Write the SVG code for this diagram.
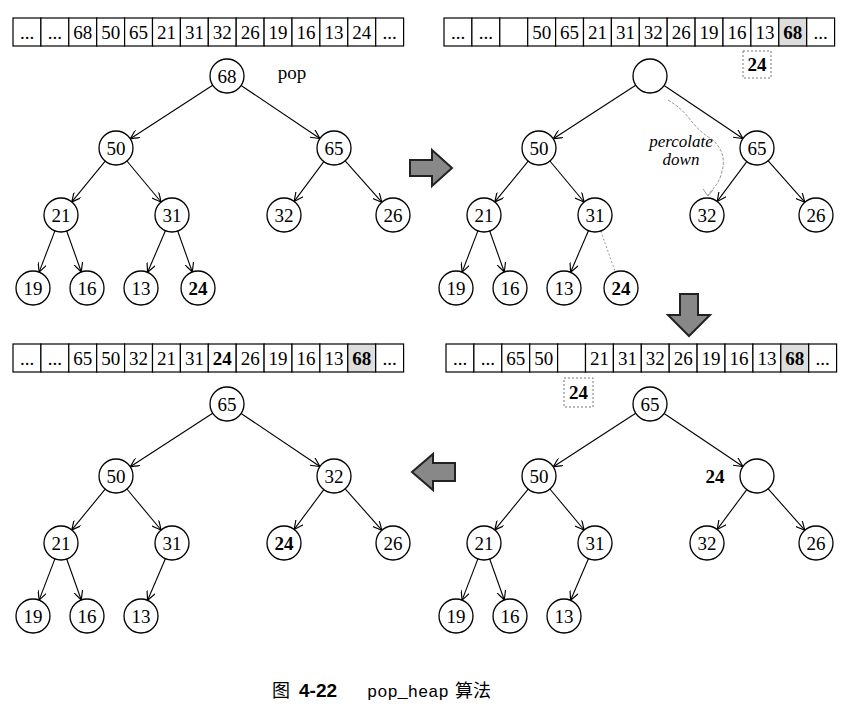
<svg xmlns="http://www.w3.org/2000/svg" width="862" height="711" viewBox="0 0 862 711">
<defs>
<style>
.n{fill:#fff;stroke:#000;stroke-width:1.3}
.t{font-family:"Liberation Serif",serif;font-size:19px;text-anchor:middle;fill:#000}
.b{font-weight:bold}
.e{stroke:#000;stroke-width:1.1;fill:none;marker-end:url(#ah)}
.c{fill:#fff;stroke:#000;stroke-width:1.2}
.g{fill:#ddd;stroke:#000;stroke-width:1.2}
.d{fill:#fff;stroke:#777;stroke-width:1;stroke-dasharray:2 2}
.big{fill:#888;stroke:#222;stroke-width:2}
</style>
<marker id="ah" viewBox="0 0 10 10" refX="10" refY="5" markerWidth="9" markerHeight="9" orient="auto" markerUnits="userSpaceOnUse"><path d="M0,0 L10,5 L0,10" fill="none" stroke="#000" stroke-width="1.3"/></marker>
<g id="arr"><rect class="c" x="0" y="0" width="27.9" height="28"/></g>
</defs>
<rect width="862" height="711" fill="#fff"/>

<g id="connectors">
 <g id="e-tl">
  <line class="e" x1="212.7" y1="85.3" x2="130.3" y2="138.7"/>
  <line class="e" x1="241.1" y1="85.5" x2="319.9" y2="138.5"/>
  <line class="e" x1="105.2" y1="161.1" x2="71.8" y2="201.9"/>
  <line class="e" x1="126.9" y1="161" x2="161.1" y2="202"/>
  <line class="e" x1="323.8" y1="161.6" x2="294.2" y2="201.4"/>
  <line class="e" x1="345.2" y1="160.8" x2="381.8" y2="202.2"/>
  <line class="e" x1="54.9" y1="230.9" x2="39.1" y2="272.1"/>
  <line class="e" x1="66.7" y1="231" x2="81.3" y2="272"/>
  <line class="e" x1="165.4" y1="230.7" x2="147.6" y2="272.3"/>
  <line class="e" x1="177.7" y1="231" x2="192.3" y2="272"/>
 </g>
 <g id="e-tr" transform="translate(423,0)">
  <line class="e" x1="212.7" y1="85.3" x2="130.3" y2="138.7"/>
  <line class="e" x1="241.1" y1="85.5" x2="319.9" y2="138.5"/>
  <line class="e" x1="105.2" y1="161.1" x2="71.8" y2="201.9"/>
  <line class="e" x1="126.9" y1="161" x2="161.1" y2="202"/>
  <line class="e" x1="323.8" y1="161.6" x2="294.2" y2="201.4"/>
  <line class="e" x1="345.2" y1="160.8" x2="381.8" y2="202.2"/>
  <line class="e" x1="54.9" y1="230.9" x2="39.1" y2="272.1"/>
  <line class="e" x1="66.7" y1="231" x2="81.3" y2="272"/>
  <line class="e" x1="165.4" y1="230.7" x2="147.6" y2="272.3"/>
  <line x1="177.7" y1="231" x2="192.3" y2="272" stroke="#999" stroke-width="1" stroke-dasharray="2 2"/>
  <path d="M245,100 C270,115 265,125 290,140 C300,150 303,160 298,175 C295,185 290,188 285,195" fill="none" stroke="#999" stroke-width="1" stroke-dasharray="3 1.5"/>
  <path d="M280,189 L285,196 L290,190" fill="none" stroke="#999" stroke-width="1"/>
 </g>
 <g id="e-bl" transform="translate(0,328)">
  <line class="e" x1="212.7" y1="85.3" x2="130.3" y2="138.7"/>
  <line class="e" x1="241.1" y1="85.5" x2="319.9" y2="138.5"/>
  <line class="e" x1="105.2" y1="161.1" x2="71.8" y2="201.9"/>
  <line class="e" x1="126.9" y1="161" x2="161.1" y2="202"/>
  <line class="e" x1="323.8" y1="161.6" x2="294.2" y2="201.4"/>
  <line class="e" x1="345.2" y1="160.8" x2="381.8" y2="202.2"/>
  <line class="e" x1="54.9" y1="230.9" x2="39.1" y2="272.1"/>
  <line class="e" x1="66.7" y1="231" x2="81.3" y2="272"/>
  <line class="e" x1="165.4" y1="230.7" x2="147.6" y2="272.3"/>
 </g>
 <g id="e-br" transform="translate(423,328)">
  <line class="e" x1="212.7" y1="85.3" x2="130.3" y2="138.7"/>
  <line class="e" x1="241.1" y1="85.5" x2="319.9" y2="138.5"/>
  <line class="e" x1="105.2" y1="161.1" x2="71.8" y2="201.9"/>
  <line class="e" x1="126.9" y1="161" x2="161.1" y2="202"/>
  <line class="e" x1="323.8" y1="161.6" x2="294.2" y2="201.4"/>
  <line class="e" x1="345.2" y1="160.8" x2="381.8" y2="202.2"/>
  <line class="e" x1="54.9" y1="230.9" x2="39.1" y2="272.1"/>
  <line class="e" x1="66.7" y1="231" x2="81.3" y2="272"/>
  <line class="e" x1="165.4" y1="230.7" x2="147.6" y2="272.3"/>
 </g>
</g>

<g id="array-tl" transform="translate(13,18)">
 <use href="#arr" x="0"/><use href="#arr" x="27.9"/><use href="#arr" x="55.8"/><use href="#arr" x="83.7"/><use href="#arr" x="111.6"/><use href="#arr" x="139.5"/><use href="#arr" x="167.4"/><use href="#arr" x="195.3"/><use href="#arr" x="223.2"/><use href="#arr" x="251.1"/><use href="#arr" x="279"/><use href="#arr" x="306.9"/><use href="#arr" x="334.8"/><use href="#arr" x="362.7"/>
 <g class="t">
 <text x="14" y="21">...</text><text x="41.9" y="21">...</text><text x="69.8" y="21">68</text><text x="97.7" y="21">50</text><text x="125.6" y="21">65</text><text x="153.5" y="21">21</text><text x="181.4" y="21">31</text><text x="209.3" y="21">32</text><text x="237.2" y="21">26</text><text x="265.1" y="21">19</text><text x="293" y="21">16</text><text x="320.9" y="21">13</text><text x="348.8" y="21">24</text><text x="376.7" y="21">...</text>
 </g>
</g>
<g id="array-tr" transform="translate(444,18)">
 <use href="#arr" x="0"/><use href="#arr" x="27.9"/><use href="#arr" x="55.8"/><use href="#arr" x="83.7"/><use href="#arr" x="111.6"/><use href="#arr" x="139.5"/><use href="#arr" x="167.4"/><use href="#arr" x="195.3"/><use href="#arr" x="223.2"/><use href="#arr" x="251.1"/><use href="#arr" x="279"/><use href="#arr" x="306.9"/><rect class="g" x="334.8" y="0" width="27.9" height="28"/><use href="#arr" x="362.7"/>
 <g class="t">
 <text x="14" y="21">...</text><text x="41.9" y="21">...</text><text x="97.7" y="21">50</text><text x="125.6" y="21">65</text><text x="153.5" y="21">21</text><text x="181.4" y="21">31</text><text x="209.3" y="21">32</text><text x="237.2" y="21">26</text><text x="265.1" y="21">19</text><text x="293" y="21">16</text><text x="320.9" y="21">13</text><text class="b" x="348.8" y="21">68</text><text x="376.7" y="21">...</text>
 </g>
</g>
<g id="array-br" transform="translate(446,344)">
 <use href="#arr" x="0"/><use href="#arr" x="27.9"/><use href="#arr" x="55.8"/><use href="#arr" x="83.7"/><use href="#arr" x="111.6"/><use href="#arr" x="139.5"/><use href="#arr" x="167.4"/><use href="#arr" x="195.3"/><use href="#arr" x="223.2"/><use href="#arr" x="251.1"/><use href="#arr" x="279"/><use href="#arr" x="306.9"/><rect class="g" x="334.8" y="0" width="27.9" height="28"/><use href="#arr" x="362.7"/>
 <g class="t">
 <text x="14" y="21">...</text><text x="41.9" y="21">...</text><text x="69.8" y="21">65</text><text x="97.7" y="21">50</text><text x="153.5" y="21">21</text><text x="181.4" y="21">31</text><text x="209.3" y="21">32</text><text x="237.2" y="21">26</text><text x="265.1" y="21">19</text><text x="293" y="21">16</text><text x="320.9" y="21">13</text><text class="b" x="348.8" y="21">68</text><text x="376.7" y="21">...</text>
 </g>
</g>
<g id="array-bl" transform="translate(13,344)">
 <use href="#arr" x="0"/><use href="#arr" x="27.9"/><use href="#arr" x="55.8"/><use href="#arr" x="83.7"/><use href="#arr" x="111.6"/><use href="#arr" x="139.5"/><use href="#arr" x="167.4"/><use href="#arr" x="195.3"/><use href="#arr" x="223.2"/><use href="#arr" x="251.1"/><use href="#arr" x="279"/><use href="#arr" x="306.9"/><rect class="g" x="334.8" y="0" width="27.9" height="28"/><use href="#arr" x="362.7"/>
 <g class="t">
 <text x="14" y="21">...</text><text x="41.9" y="21">...</text><text x="69.8" y="21">65</text><text x="97.7" y="21">50</text><text x="125.6" y="21">32</text><text x="153.5" y="21">21</text><text x="181.4" y="21">31</text><text class="b" x="209.3" y="21">24</text><text x="237.2" y="21">26</text><text x="265.1" y="21">19</text><text x="293" y="21">16</text><text x="320.9" y="21">13</text><text class="b" x="348.8" y="21">68</text><text x="376.7" y="21">...</text>
 </g>
</g>

<g id="tmp-tr"><rect class="d" x="743" y="51" width="28" height="27"/><text class="t b" x="757" y="71">24</text></g>
<g id="tmp-br"><rect class="d" x="564" y="378" width="29" height="29"/><text class="t b" x="578.5" y="399">24</text></g>

<g id="tree-tl">
 <g id="tl-68"><circle class="n" cx="227" cy="76" r="17"/><text class="t" x="227" y="83">68</text></g>
 <text class="t" x="292" y="79">pop</text>
 <g id="tl-50"><circle class="n" cx="116" cy="148" r="17"/><text class="t" x="116" y="155">50</text></g>
 <g id="tl-65"><circle class="n" cx="334" cy="148" r="17"/><text class="t" x="334" y="155">65</text></g>
 <g id="tl-21"><circle class="n" cx="61" cy="215" r="17"/><text class="t" x="61" y="222">21</text></g>
 <g id="tl-31"><circle class="n" cx="172" cy="215" r="17"/><text class="t" x="172" y="222">31</text></g>
 <g id="tl-32"><circle class="n" cx="284" cy="215" r="17"/><text class="t" x="284" y="222">32</text></g>
 <g id="tl-26"><circle class="n" cx="393" cy="215" r="17"/><text class="t" x="393" y="222">26</text></g>
 <g id="tl-19"><circle class="n" cx="33" cy="288" r="17"/><text class="t" x="33" y="295">19</text></g>
 <g id="tl-16"><circle class="n" cx="87" cy="288" r="17"/><text class="t" x="87" y="295">16</text></g>
 <g id="tl-13"><circle class="n" cx="141" cy="288" r="17"/><text class="t" x="141" y="295">13</text></g>
 <g id="tl-24"><circle class="n" cx="198" cy="288" r="17"/><text class="t b" x="198" y="295">24</text></g>
</g>

<g id="tree-tr" transform="translate(423,0)">
 <g id="tr-root"><circle class="n" cx="227" cy="76" r="17"/></g>
 <g id="tr-50"><circle class="n" cx="116" cy="148" r="17"/><text class="t" x="116" y="155">50</text></g>
 <g id="tr-65"><circle class="n" cx="334" cy="148" r="17"/><text class="t" x="334" y="155">65</text></g>
 <g id="tr-21"><circle class="n" cx="61" cy="215" r="17"/><text class="t" x="61" y="222">21</text></g>
 <g id="tr-31"><circle class="n" cx="172" cy="215" r="17"/><text class="t" x="172" y="222">31</text></g>
 <g id="tr-32"><circle class="n" cx="284" cy="215" r="17"/><text class="t" x="284" y="222">32</text></g>
 <g id="tr-26"><circle class="n" cx="393" cy="215" r="17"/><text class="t" x="393" y="222">26</text></g>
 <g id="tr-19"><circle class="n" cx="33" cy="288" r="17"/><text class="t" x="33" y="295">19</text></g>
 <g id="tr-16"><circle class="n" cx="87" cy="288" r="17"/><text class="t" x="87" y="295">16</text></g>
 <g id="tr-13"><circle class="n" cx="141" cy="288" r="17"/><text class="t" x="141" y="295">13</text></g>
 <g id="tr-24"><circle class="n" cx="198" cy="288" r="17"/><text class="t b" x="198" y="295">24</text></g>
 <text class="t" x="258" y="147" style="font-style:italic;font-size:17px">percolate</text>
 <text class="t" x="258" y="165" style="font-style:italic;font-size:17px">down</text>
</g>

<g id="tree-bl" transform="translate(0,328)">
 <g id="bl-65"><circle class="n" cx="227" cy="76" r="17"/><text class="t" x="227" y="83">65</text></g>
 <g id="bl-50"><circle class="n" cx="116" cy="148" r="17"/><text class="t" x="116" y="155">50</text></g>
 <g id="bl-32"><circle class="n" cx="334" cy="148" r="17"/><text class="t" x="334" y="155">32</text></g>
 <g id="bl-21"><circle class="n" cx="61" cy="215" r="17"/><text class="t" x="61" y="222">21</text></g>
 <g id="bl-31"><circle class="n" cx="172" cy="215" r="17"/><text class="t" x="172" y="222">31</text></g>
 <g id="bl-24"><circle class="n" cx="284" cy="215" r="17"/><text class="t b" x="284" y="222">24</text></g>
 <g id="bl-26"><circle class="n" cx="393" cy="215" r="17"/><text class="t" x="393" y="222">26</text></g>
 <g id="bl-19"><circle class="n" cx="33" cy="288" r="17"/><text class="t" x="33" y="295">19</text></g>
 <g id="bl-16"><circle class="n" cx="87" cy="288" r="17"/><text class="t" x="87" y="295">16</text></g>
 <g id="bl-13"><circle class="n" cx="141" cy="288" r="17"/><text class="t" x="141" y="295">13</text></g>
</g>

<g id="tree-br" transform="translate(423,328)">
 <g id="br-65"><circle class="n" cx="227" cy="76" r="17"/><text class="t" x="227" y="83">65</text></g>
 <g id="br-50"><circle class="n" cx="116" cy="148" r="17"/><text class="t" x="116" y="155">50</text></g>
 <g id="br-empty"><circle class="n" cx="334" cy="148" r="17"/></g>
 <text class="t b" x="292" y="155">24</text>
 <g id="br-21"><circle class="n" cx="61" cy="215" r="17"/><text class="t" x="61" y="222">21</text></g>
 <g id="br-31"><circle class="n" cx="172" cy="215" r="17"/><text class="t" x="172" y="222">31</text></g>
 <g id="br-32"><circle class="n" cx="284" cy="215" r="17"/><text class="t" x="284" y="222">32</text></g>
 <g id="br-26"><circle class="n" cx="393" cy="215" r="17"/><text class="t" x="393" y="222">26</text></g>
 <g id="br-19"><circle class="n" cx="33" cy="288" r="17"/><text class="t" x="33" y="295">19</text></g>
 <g id="br-16"><circle class="n" cx="87" cy="288" r="17"/><text class="t" x="87" y="295">16</text></g>
 <g id="br-13"><circle class="n" cx="141" cy="288" r="17"/><text class="t" x="141" y="295">13</text></g>
</g>

<polygon class="big" points="410,160 432,160 432,150 452,168 432,186 432,176 410,176"/>
<polygon class="big" points="680,294 698,294 698,315 710,315 689,336 668,315 680,315"/>
<polygon class="big" points="455,463 433,463 433,454 412,472 433,490 433,481 455,481"/>

<g id="caption">
 <text x="272" y="697" style="font-family:'Noto Sans CJK SC',sans-serif;font-size:18px">图</text>
 <text x="299" y="697" style="font-family:'Liberation Sans',sans-serif;font-size:19px;font-weight:bold">4-22</text>
 <text x="367" y="697" style="font-family:'Liberation Mono',monospace;font-size:17px">pop_heap</text>
 <text x="455" y="697" style="font-family:'Noto Sans CJK SC',sans-serif;font-size:18px">算法</text>
</g>
</svg>
